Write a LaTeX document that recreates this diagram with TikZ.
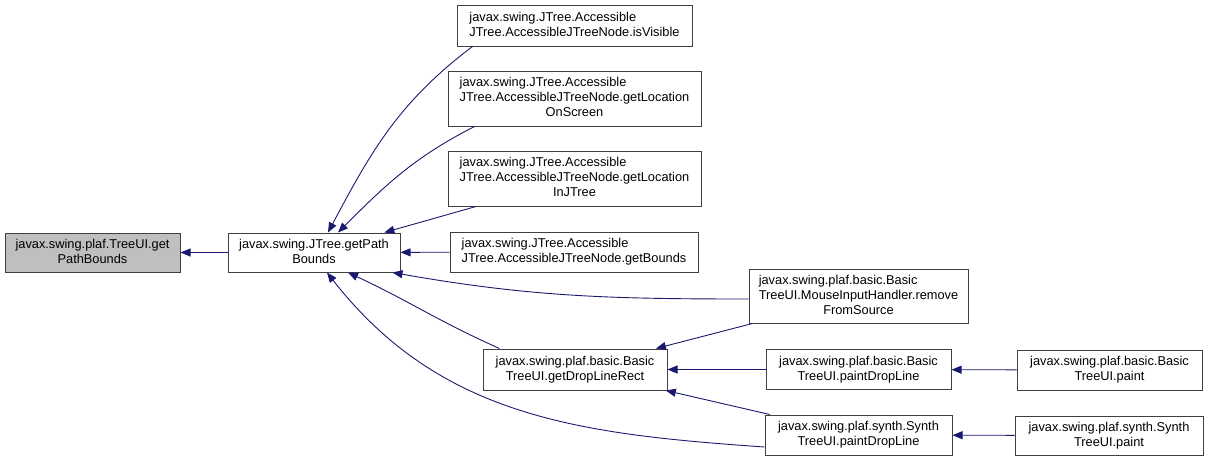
\documentclass[tikz,border=0pt]{standalone}
\usepackage{fontspec}
\setmainfont{Liberation Sans}
\definecolor{edgeblue}{RGB}{25,25,112}
\definecolor{boxgray}{RGB}{64,64,64}
\definecolor{focusfill}{RGB}{191,191,191}
\usetikzlibrary{arrows.meta,calc}
% left lines, last line centred
\newcommand{\dlab}[2]{\begin{tabular}{@{}l@{}}#1\\\multicolumn{1}{@{}c@{}}{#2}\end{tabular}}

\begin{document}
\begin{tikzpicture}[x=1pt, y=1pt,
    fn/.style={rectangle, draw=boxgray, fill=white, line width=1pt, inner sep=0pt,
      align=center, font=\fontsize{12.8}{15}\selectfont},
    arrow/.style={-{Triangle[length=10pt, width=8pt]}, edgeblue, line width=0.9pt}
  ]
    \useasboundingbox (0,0) rectangle (1208,-461);
    % Focus box and its caller
    \node[fn, fill=focusfill, minimum width=175pt, minimum height=39pt] (treeget) at (92.5,-252.5)
      {\dlab{javax.swing.plaf.TreeUI.get}{PathBounds}};
    \node[fn, minimum width=172pt, minimum height=39pt] (jtreeget) at (314,-252.5)
      {\dlab{javax.swing.JTree.getPath}{Bounds}};
    % Accessible node callers
    \node[fn, minimum width=235pt, minimum height=41pt] (isvis) at (574.5,-25.5)
      {\dlab{javax.swing.JTree.Accessible}{JTree.AccessibleJTreeNode.isVisible}};
    \node[fn, minimum width=253pt, minimum height=55pt] (locscreen) at (574.5,-98.5)
      {\dlab{javax.swing.JTree.Accessible\\JTree.AccessibleJTreeNode.getLocation}{OnScreen}};
    \node[fn, minimum width=253pt, minimum height=55pt] (locjtree) at (574.5,-178.5)
      {\dlab{javax.swing.JTree.Accessible\\JTree.AccessibleJTreeNode.getLocation}{InJTree}};
    \node[fn, minimum width=248pt, minimum height=40pt] (bounds) at (574,-252)
      {\dlab{javax.swing.JTree.Accessible}{JTree.AccessibleJTreeNode.getBounds}};
    % Basic and synth UI callers
    \node[fn, minimum width=184pt, minimum height=41pt] (droprect) at (575,-369.5)
      {\dlab{javax.swing.plaf.basic.Basic}{TreeUI.getDropLineRect}};
    \node[fn, minimum width=219pt, minimum height=54pt] (remove) at (858.5,-296)
      {\dlab{javax.swing.plaf.basic.Basic\\TreeUI.MouseInputHandler.remove}{FromSource}};
    \node[fn, minimum width=185pt, minimum height=40pt] (basicpaintdl) at (858.5,-369.5)
      {\dlab{javax.swing.plaf.basic.Basic}{TreeUI.paintDropLine}};
    \node[fn, minimum width=187pt, minimum height=40pt] (synthpaintdl) at (858.5,-435)
      {\dlab{javax.swing.plaf.synth.Synth}{TreeUI.paintDropLine}};
    \node[fn, minimum width=185pt, minimum height=40pt] (basicpaint) at (1109.5,-370)
      {\dlab{javax.swing.plaf.basic.Basic}{TreeUI.paint}};
    \node[fn, minimum width=188pt, minimum height=39pt] (synthpaint) at (1109,-435.5)
      {\dlab{javax.swing.plaf.synth.Synth}{TreeUI.paint}};
    % Call edges
    \draw[arrow] (jtreeget) -- (treeget);
    \draw[arrow] ($(isvis.south west)+(16,0)$) to[out=217, in=62] ($(jtreeget.north)+(14,0)$);
    \draw[arrow] ($(locscreen.south west)+(27,0)$) to[out=207, in=45] ($(jtreeget.north)+(24,0)$);
    \draw[arrow] (locjtree) -- (jtreeget);
    \draw[arrow] (bounds) -- (jtreeget);
    \draw[arrow] ($(remove.west)+(0,-3)$) to[out=180, in=-10] ($(jtreeget.south east)+(-8,0)$);
    \draw[arrow] ($(droprect.north west)+(17,0)$) to[out=156, in=-25] ($(jtreeget.south)+(34,0)$);
    \draw[arrow] ($(synthpaintdl.west)+(0,-12)$) to[out=176, in=-52] ($(jtreeget.south)+(13,0)$);
    \draw[arrow] (remove) -- (droprect);
    \draw[arrow] (basicpaintdl) -- (droprect);
    \draw[arrow] (synthpaintdl) -- (droprect);
    \draw[arrow] (basicpaint) -- (basicpaintdl);
    \draw[arrow] (synthpaint) -- (synthpaintdl);
  \end{tikzpicture}
\end{document}
